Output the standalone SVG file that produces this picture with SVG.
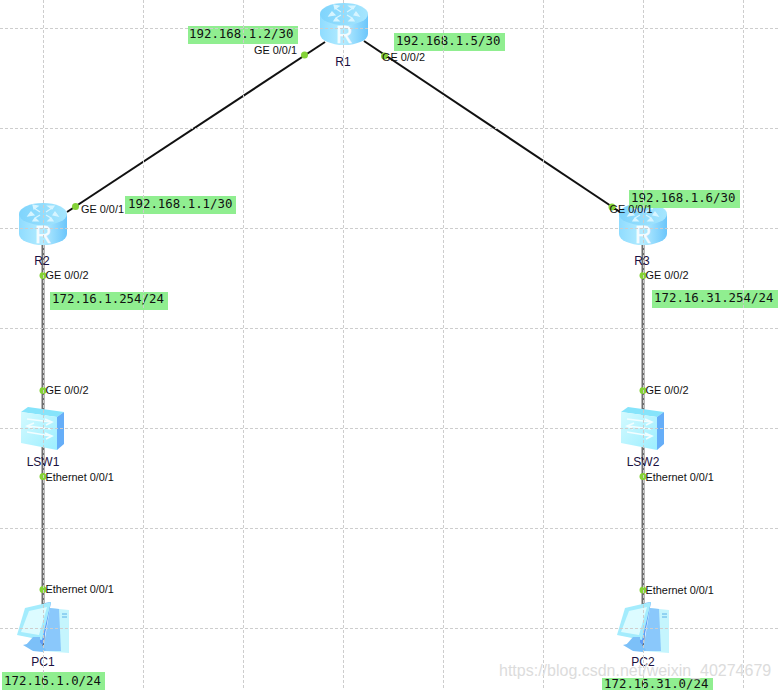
<svg xmlns="http://www.w3.org/2000/svg" width="780" height="690" viewBox="0 0 780 690">
<style>
.grid{stroke:#cdcdcd;stroke-width:1;stroke-dasharray:3 2;fill:none}
.eth{stroke:#6e6e6e;stroke-width:3;fill:none}
.ser{stroke:#111;stroke-width:2;fill:none}
.dot{fill:#84d237}
.if{font-family:"Liberation Sans",Arial,sans-serif;font-size:10.9px;fill:#111}
.nm{font-family:"Liberation Sans",Arial,sans-serif;font-size:12px;fill:#1a1040;text-anchor:middle}
.tag{fill:#90ee90}
.ip{font-family:"DejaVu Sans Mono",monospace;font-size:12.4px;fill:#111}
.wm{font-family:"Liberation Sans",Arial,sans-serif;font-size:16px;fill:#dcdcdc}
</style>
<defs>
<linearGradient id="rb" x1="0" y1="0" x2="1" y2="0"><stop offset="0" stop-color="#8fdcff"/><stop offset=".5" stop-color="#b5ecff"/><stop offset="1" stop-color="#6cc6fb"/></linearGradient>
<linearGradient id="rt" x1="0" y1="0" x2="1" y2="0"><stop offset="0" stop-color="#7fd4fc"/><stop offset="1" stop-color="#a6e6fe"/></linearGradient>
<linearGradient id="sf" x1="0" y1="0" x2="1" y2="1"><stop offset="0" stop-color="#d4faff"/><stop offset="1" stop-color="#9ceeff"/></linearGradient>
<g id="router">
<path d="M-24-10V10A24 11 0 0 0 24 10V-10Z" fill="url(#rb)"/>
<ellipse cx="0" cy="-10" rx="24" ry="11" fill="url(#rt)"/>
<path d="M-5-18L-10-19L-9-15ZM-9-9L-15-8L-12-12ZM5-18L11-18L9-15ZM10-9L15-8L12-12ZM-5-3L-10-3L-8-6ZM5-3L10-3L8-6ZM-9-16L-3-12M9-16L3-12M-8-6L-3-9M8-6L3-9" fill="#d8f5ff" stroke="#d8f5ff" stroke-width="1.2"/>
<text x="0" y="19" font-family="Liberation Sans,Arial,sans-serif" font-size="23" fill="#f4fcff" stroke="#f4fcff" stroke-width=".4" text-anchor="middle">R</text>
</g>
<g id="switch">
<path d="M-22-16L-15-21L21-16L14-11Z" fill="#86e4fb"/>
<path d="M-22-16L14-11V22L-22 15Z" fill="url(#sf)"/>
<path d="M14-11L21-16V16L14 22Z" fill="#66aef8"/>
<path d="M-16-9L8-6M2-9L9-6L3-3M8 1L-15-2M-9-5L-16-2L-10 1M-16 4L8 8M2 5L9 8L3 11" fill="none" stroke="#f2fdff" stroke-width="1.6"/>
</g>
<g id="pc">
<path d="M7-16L26-14V29L0 27Z" fill="#c5f5fd"/>
<path d="M7-16L16-15L18 27L0 27Z" fill="#8ac8fb"/>
<path d="M2-21L8-22L0 21L-6 18Z" fill="#5e9cf5"/>
<path d="M-18-16L8-22L-1 16L-26 11Z" fill="#a4ecfd"/>
<path d="M-14-13L4-17L-4 11L-22 8Z" fill="#dcfbff"/>
<path d="M-10 13L-3 13V19L-17 21Z" fill="#7cc0f8"/>
<path d="M-20 21L-4 17L3 26L0 28L-10 27Z" fill="#7cc0f8"/>
<path d="M19-10L24-10M19-7L24-7" stroke="#5cb0e8"/>
</g>
</defs>
<rect width="780" height="690" fill="#fff"/>
<g id="connectors">
<path class="ser" d="M67 212L325 42"/>
<path class="ser" d="M364 41L620 212"/>
<path class="eth" d="M43 245V650"/>
<path class="eth" d="M643 245V650"/>
</g>
<g id="R1"><use href="#router" x="344" y="24"/><text class="nm" x="343" y="66">R1</text>
<circle class="dot" cx="304.500" cy="55" r="3.500"/><circle class="dot" cx="384.500" cy="56" r="3.500"/>
<rect class="tag" x="188" y="26" width="110" height="18"/><text class="ip" x="189" y="38">192.168.1.2/30</text>
<rect class="tag" x="394" y="33" width="111" height="18"/><text class="ip" x="396" y="45">192.168.1.5/30</text>
<text class="if" x="254" y="54">GE 0/0/1</text><text class="if" x="382" y="61">GE 0/0/2</text></g>
<g id="R2"><use href="#router" x="43" y="224"/><text class="nm" x="42" y="265">R2</text>
<circle class="dot" cx="75.500" cy="206.500" r="3.500"/><circle class="dot" cx="43" cy="275.500" r="3.500"/>
<rect class="tag" x="125" y="196" width="111" height="18"/><text class="ip" x="128" y="208">192.168.1.1/30</text>
<rect class="tag" x="50" y="292" width="118" height="18"/><text class="ip" x="52" y="303">172.16.1.254/24</text>
<text class="if" x="81" y="213">GE 0/0/1</text><text class="if" x="45.500" y="279">GE 0/0/2</text></g>
<g id="R3"><use href="#router" x="643" y="224"/><text class="nm" x="642" y="265">R3</text>
<circle class="dot" cx="612" cy="207" r="3.500"/><circle class="dot" cx="643" cy="275.500" r="3.500"/>
<rect class="tag" x="629" y="190" width="111" height="18"/><text class="ip" x="631" y="202">192.168.1.6/30</text>
<rect class="tag" x="652" y="290" width="126" height="18"/><text class="ip" x="654" y="302">172.16.31.254/24</text>
<text class="if" x="609.500" y="213">GE 0/0/1</text><text class="if" x="645.500" y="279">GE 0/0/2</text></g>
<g id="LSW1"><use href="#switch" x="43" y="428"/><text class="nm" x="43" y="466">LSW1</text>
<circle class="dot" cx="43" cy="390.500" r="3.500"/><circle class="dot" cx="43" cy="476.500" r="3.500"/>
<text class="if" x="45.500" y="394">GE 0/0/2</text><text class="if" x="45.500" y="481">Ethernet 0/0/1</text></g>
<g id="LSW2"><use href="#switch" x="643" y="428"/><text class="nm" x="643" y="466">LSW2</text>
<circle class="dot" cx="643" cy="390.500" r="3.500"/><circle class="dot" cx="643" cy="476.500" r="3.500"/>
<text class="if" x="645.500" y="394">GE 0/0/2</text><text class="if" x="645.500" y="481">Ethernet 0/0/1</text></g>
<g id="PC1"><use href="#pc" x="43" y="624"/><text class="nm" x="43" y="666">PC1</text>
<circle class="dot" cx="43" cy="589.500" r="3.500"/>
<text class="if" x="45.500" y="593">Ethernet 0/0/1</text>
<rect class="tag" x="2" y="672" width="103" height="18"/><text class="ip" x="4" y="685">172.16.1.0/24</text></g>
<g id="PC2"><use href="#pc" x="643" y="624"/><text class="nm" x="643" y="666">PC2</text>
<circle class="dot" cx="643" cy="590" r="3.500"/>
<text class="if" x="645.500" y="594">Ethernet 0/0/1</text>
<rect class="tag" x="602" y="678" width="111" height="12"/><text class="ip" x="604" y="688">172.16.31.0/24</text></g>
<g id="grid">
<path class="grid" d="M43.500 0V690M143.500 0V690M243.500 0V690M343.500 0V690M443.500 0V690M543.500 0V690M643.500 0V690M743.500 0V690"/>
<path class="grid" d="M0 28.500H780M0 128.500H780M0 228.500H780M0 328.500H780M0 428.500H780M0 528.500H780M0 628.500H780"/>
</g>
<text class="wm" x="499" y="676">https://blog.csdn.net/weixin_40274679</text>
</svg>
